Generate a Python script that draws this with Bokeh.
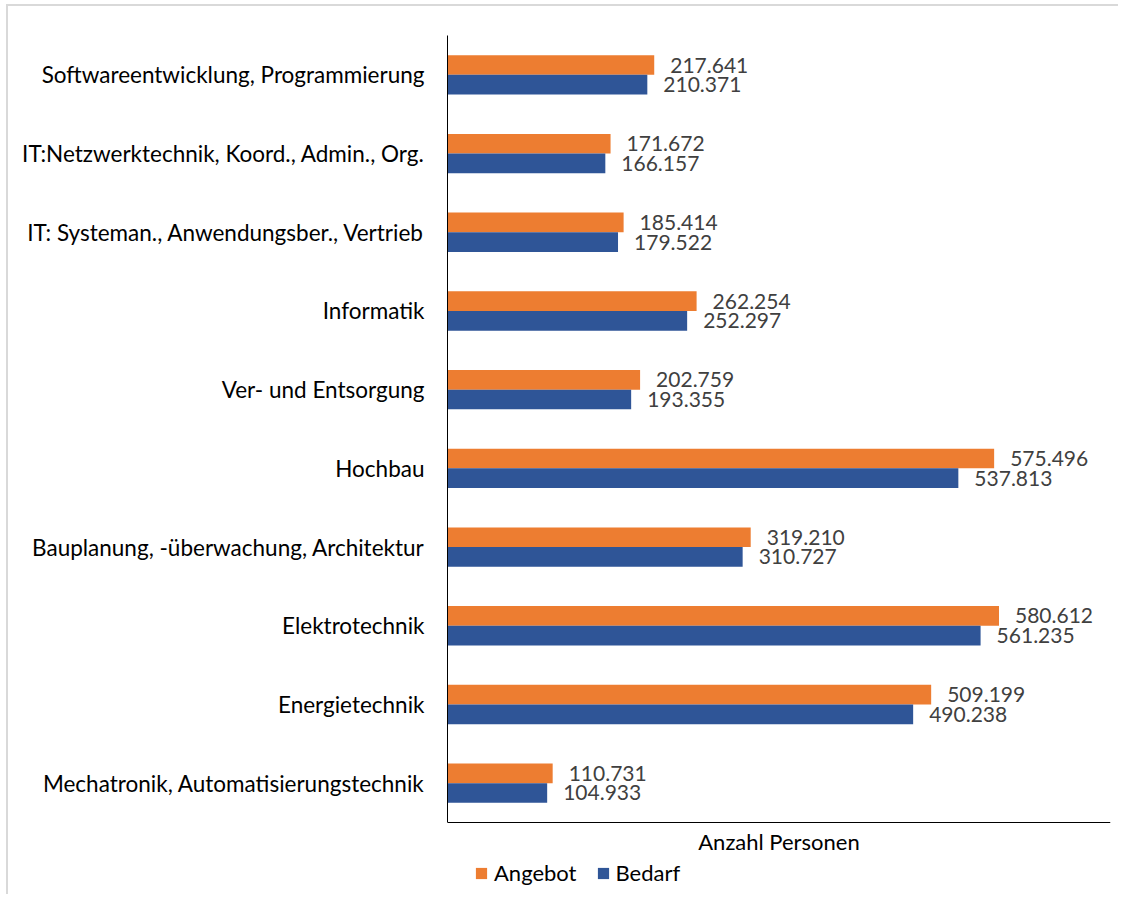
from bokeh.plotting import figure
from bokeh.models import ColumnDataSource, Range1d, FixedTicker, Legend, LegendItem
from bokeh.transform import dodge
from bokeh.core.properties import value
from bokeh.embed import file_html
from bokeh.resources import INLINE

categories = [
    "Softwareentwicklung, Programmierung",
    "IT:Netzwerktechnik, Koord., Admin., Org.",
    "IT: Systeman., Anwendungsber., Vertrieb",
    "Informatik",
    "Ver- und Entsorgung",
    "Hochbau",
    "Bauplanung, -überwachung, Architektur",
    "Elektrotechnik",
    "Energietechnik",
    "Mechatronik, Automatisierungstechnik",
]
angebot = [217641, 171672, 185414, 262254, 202759, 575496, 319210, 580612, 509199, 110731]
bedarf = [210371, 166157, 179522, 252297, 193355, 537813, 310727, 561235, 490238, 104933]

def fmt(v):
    return f"{v:,}".replace(",", ".")

n = len(categories)
ypos = [n - i - 0.5 for i in range(n)]  # category slots, top to bottom

src = ColumnDataSource(dict(
    cat=categories,
    y=ypos,
    angebot=angebot,
    bedarf=bedarf,
    a_lbl=[fmt(v) for v in angebot],
    b_lbl=[fmt(v) for v in bedarf],
))

FONT = "Lato"

p = figure(
    width=1112, height=890,
    y_range=Range1d(-0.902, n),
    x_range=Range1d(0, 698000),
    output_backend="svg", toolbar_location=None,
    min_border_left=439, min_border_right=10, min_border_top=29, min_border_bottom=3,
)
p.styles = {
    "margin-left": "6px",
    "margin-top": "4px",
    "border-left": "2px solid #d9d9d9",
    "border-top": "2px solid #d9d9d9",
    "border-right": "none",
    "border-bottom": "none",
}
p.outline_line_color = None
p.xgrid.grid_line_color = None
p.ygrid.grid_line_color = None

r_a = p.hbar(y=dodge("y", 0.125), right="angebot", left=0, height=0.25,
             source=src, fill_color="#ED7D31", line_color=None)
r_b = p.hbar(y=dodge("y", -0.125), right="bedarf", left=0, height=0.25,
             source=src, fill_color="#2F5597", line_color=None)

p.text(x="angebot", y=dodge("y", 0.125), text="a_lbl", source=src,
       x_offset=16, text_baseline="middle", text_align="left",
       text_font=value(FONT), text_font_size="21px", text_color="#404040")
p.text(x="bedarf", y=dodge("y", -0.125), text="b_lbl", source=src,
       x_offset=16, text_baseline="middle", text_align="left",
       text_font=value(FONT), text_font_size="21px", text_color="#404040")

ya = p.yaxis[0]
ya.ticker = FixedTicker(ticks=ypos)
ya.major_label_overrides = {y: c for y, c in zip(ypos, categories)}
ya.bounds = (0, n)
ya.major_tick_line_color = None
ya.minor_tick_line_color = None
ya.axis_line_color = "black"
ya.major_label_standoff = 17
ya.major_label_text_font = FONT
ya.major_label_text_font_size = "22.5px"
ya.major_label_text_color = "black"

xa = p.xaxis[0]
xa.fixed_location = 0
xa.ticker = FixedTicker(ticks=[])
xa.major_tick_line_color = None
xa.minor_tick_line_color = None
xa.axis_line_color = "black"
xa.axis_label = "Anzahl Personen"
xa.axis_label_text_font = FONT
xa.axis_label_text_font_size = "22px"
xa.axis_label_text_font_style = "normal"
xa.axis_label_text_color = "black"
xa.axis_label_standoff = 5

legend = Legend(items=[LegendItem(label="Angebot", renderers=[r_a]),
                       LegendItem(label="Bedarf", renderers=[r_b])],
                orientation="horizontal", location=(27, 7),
                glyph_width=14, glyph_height=14, label_text_font=FONT,
                label_text_font_size="22px", label_text_color="black",
                padding=4, spacing=19, label_standoff=6, margin=0,
                border_line_color=None, background_fill_alpha=0)
p.add_layout(legend, "center")

open("out.html", "w").write(file_html(p, INLINE))
